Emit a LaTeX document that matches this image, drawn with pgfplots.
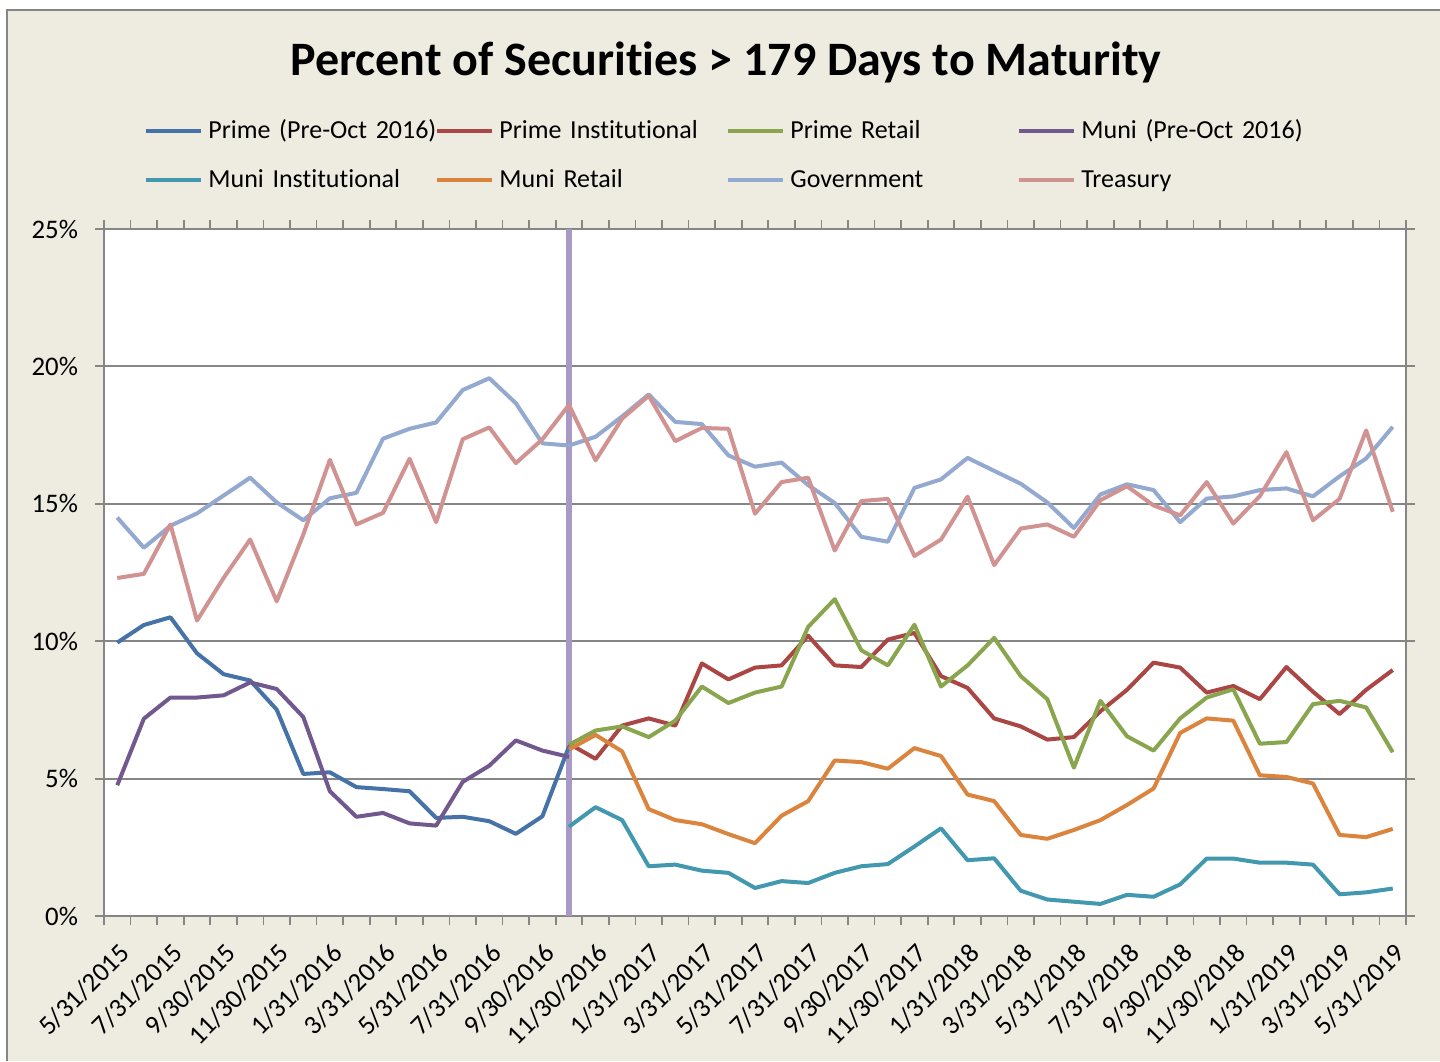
\documentclass[border=0pt]{standalone}
\usepackage{fontspec}
\setmainfont{Carlito}[Ligatures={NoCommon}]
\usepackage{pgfplots}
\pgfplotsset{compat=1.18}
\definecolor{bgc}{HTML}{EEECE1}
\definecolor{gridc}{HTML}{868686}
\definecolor{cP}{HTML}{4572A7}
\definecolor{cPI}{HTML}{AA4643}
\definecolor{cPR}{HTML}{89A54E}
\definecolor{cM}{HTML}{71588F}
\definecolor{cMI}{HTML}{4198AF}
\definecolor{cMR}{HTML}{DB843D}
\definecolor{cG}{HTML}{93A9CF}
\definecolor{cT}{HTML}{D19392}
\definecolor{cV}{RGB}{168,154,196}
\begin{document}
\begin{tikzpicture}[x=1pt,y=1pt]
\path[use as bounding box] (0,0) rectangle (720,530.5);
\fill[white] (0,0) rectangle (720,530.5);
\fill[bgc] (3.5,0) rectangle (720,525.5);
\draw[gridc, line width=1pt] (3.5,0) -- (3.5,525.5) -- (720,525.5);
\node[font=\bfseries\fontsize{24}{28}\selectfont, anchor=base, inner sep=0pt] at (363,492.5) {Percent of Securities > 179 Days to Maturity};
\begin{axis}[
  at={(52pt,72.5pt)}, anchor=south west,
  scale only axis, width=651pt, height=343.5pt,
  xmin=-0.5, xmax=48.5, ymin=0, ymax=25,
  axis background/.style={fill=white},
  axis line style={draw=gridc, line width=1pt},
  ymajorgrids, major grid style={draw=gridc, line width=0.9pt},
  ytick={0,5,...,25}, yticklabels={0\%,5\%,10\%,15\%,20\%,25\%},
  xtick={0,2,...,48},
  xticklabels={5/31/2015,7/31/2015,9/30/2015,11/30/2015,1/31/2016,3/31/2016,5/31/2016,7/31/2016,9/30/2016,11/30/2016,1/31/2017,3/31/2017,5/31/2017,7/31/2017,9/30/2017,11/30/2017,1/31/2018,3/31/2018,5/31/2018,7/31/2018,9/30/2018,11/30/2018,1/31/2019,3/31/2019,5/31/2019},
  minor xtick={-0.5,0.5,...,48.5},
  tick align=outside, major tick length=4.5pt, minor tick length=4.5pt,
  tick style={draw=gridc, line width=0.9pt},
  every major x tick/.append style={draw=none},
  ticklabel style={font=\fontsize{13.4}{15}\selectfont},
  yticklabel style={xshift=-5pt},
  xticklabel style={rotate=45, anchor=north east, inner sep=1pt, yshift=-5pt, xshift=-4.5pt},
  every axis plot/.append style={line width=2pt, line join=round, no markers},
  legend columns=4,
  legend image code/.code={\draw[#1] (0pt,0pt) -- (27.5pt,0pt);},
  legend style={draw=none, fill=none, at={(0.0307,1.1638)}, anchor=north west,
    inner sep=0pt, row sep=10pt, font=\fontsize{13}{15}\selectfont,
    nodes={inner sep=0pt, text width=113.5pt, align=left, text height=11pt, text depth=3.5pt},
    /tikz/every odd column/.append style={column sep=2.5pt},
    /tikz/every even column/.append style={column sep=0pt}},
]
\addplot[cV, line width=2.75pt, forget plot] coordinates {(17,0) (17,25)};
\addplot[cP] coordinates {(0,9.95)(1,10.59)(2,10.87)(3,9.56)(4,8.80)(5,8.57)(6,7.51)(7,5.17)(8,5.23)(9,4.69)(10,4.62)(11,4.54)(12,3.57)(13,3.61)(14,3.45)(15,2.99)(16,3.63)(17,6.17)};
\addlegendentry{\mbox{Prime (Pre-Oct 2016)}}
\addplot[cPI] coordinates {(17,6.27)(18,5.72)(19,6.93)(20,7.19)(21,6.93)(22,9.19)(23,8.61)(24,9.04)(25,9.12)(26,10.2)(27,9.12)(28,9.06)(29,10.06)(30,10.3)(31,8.73)(32,8.3)(33,7.19)(34,6.9)(35,6.42)(36,6.51)(37,7.45)(38,8.23)(39,9.22)(40,9.04)(41,8.13)(42,8.37)(43,7.89)(44,9.06)(45,8.16)(46,7.35)(47,8.23)(48,8.95)};
\addlegendentry{\mbox{Prime Institutional}}
\addplot[cPR] coordinates {(17,6.23)(18,6.75)(19,6.9)(20,6.51)(21,7.11)(22,8.35)(23,7.75)(24,8.13)(25,8.35)(26,10.52)(27,11.53)(28,9.67)(29,9.12)(30,10.6)(31,8.35)(32,9.12)(33,10.12)(34,8.73)(35,7.89)(36,5.4)(37,7.83)(38,6.54)(39,6.02)(40,7.19)(41,7.95)(42,8.25)(43,6.27)(44,6.33)(45,7.71)(46,7.83)(47,7.59)(48,5.96)};
\addlegendentry{Prime Retail}
\addplot[cM] coordinates {(0,4.76)(1,7.18)(2,7.95)(3,7.95)(4,8.03)(5,8.5)(6,8.26)(7,7.24)(8,4.54)(9,3.61)(10,3.75)(11,3.37)(12,3.29)(13,4.88)(14,5.47)(15,6.39)(16,6.02)(17,5.79)};
\addlegendentry{\mbox{Muni (Pre-Oct 2016)}}
\addplot[cMI] coordinates {(17,3.25)(18,3.96)(19,3.49)(20,1.81)(21,1.87)(22,1.65)(23,1.57)(24,1.02)(25,1.27)(26,1.2)(27,1.57)(28,1.81)(29,1.89)(30,2.53)(31,3.19)(32,2.03)(33,2.1)(34,0.92)(35,0.6)(36,0.52)(37,0.44)(38,0.77)(39,0.7)(40,1.15)(41,2.09)(42,2.09)(43,1.94)(44,1.94)(45,1.87)(46,0.79)(47,0.86)(48,1.0)};
\addlegendentry{\mbox{Muni Institutional}}
\addplot[cMR] coordinates {(17,6.06)(18,6.59)(19,5.99)(20,3.89)(21,3.49)(22,3.34)(23,2.98)(24,2.65)(25,3.65)(26,4.18)(27,5.66)(28,5.6)(29,5.36)(30,6.11)(31,5.82)(32,4.42)(33,4.18)(34,2.95)(35,2.81)(36,3.13)(37,3.49)(38,4.04)(39,4.64)(40,6.66)(41,7.19)(42,7.11)(43,5.12)(44,5.06)(45,4.82)(46,2.95)(47,2.87)(48,3.17)};
\addlegendentry{Muni Retail}
\addplot[cG] coordinates {(0,14.5)(1,13.4)(2,14.2)(3,14.65)(4,15.3)(5,15.95)(6,15.05)(7,14.4)(8,15.2)(9,15.4)(10,17.37)(11,17.73)(12,17.96)(13,19.14)(14,19.57)(15,18.66)(16,17.2)(17,17.12)(18,17.44)(19,18.18)(20,18.98)(21,17.98)(22,17.9)(23,16.76)(24,16.35)(25,16.5)(26,15.68)(27,15.03)(28,13.8)(29,13.62)(30,15.58)(31,15.89)(32,16.67)(33,16.2)(34,15.73)(35,15.05)(36,14.12)(37,15.34)(38,15.71)(39,15.5)(40,14.33)(41,15.19)(42,15.27)(43,15.5)(44,15.56)(45,15.27)(46,16.0)(47,16.65)(48,17.8)};
\addlegendentry{Government}
\addplot[cT] coordinates {(0,12.3)(1,12.45)(2,14.25)(3,10.75)(4,12.3)(5,13.7)(6,11.45)(7,13.88)(8,16.6)(9,14.25)(10,14.67)(11,16.64)(12,14.33)(13,17.35)(14,17.78)(15,16.48)(16,17.35)(17,18.6)(18,16.58)(19,18.1)(20,18.93)(21,17.28)(22,17.76)(23,17.73)(24,14.64)(25,15.79)(26,15.95)(27,13.3)(28,15.1)(29,15.18)(30,13.1)(31,13.7)(32,15.26)(33,12.77)(34,14.1)(35,14.25)(36,13.8)(37,15.13)(38,15.64)(39,14.94)(40,14.58)(41,15.79)(42,14.28)(43,15.28)(44,16.88)(45,14.4)(46,15.18)(47,17.67)(48,14.71)};
\addlegendentry{Treasury}
\end{axis}
\end{tikzpicture}
\end{document}
